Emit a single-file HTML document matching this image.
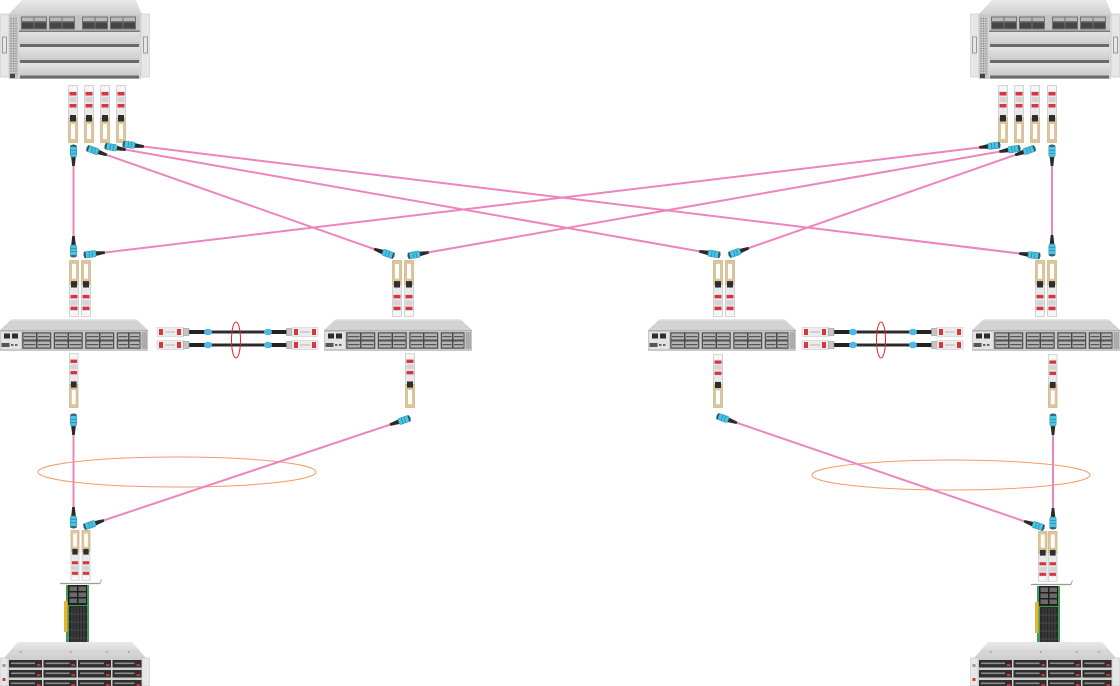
<!DOCTYPE html>
<html><head><meta charset="utf-8"><style>
html,body{margin:0;padding:0;background:#fff;}
svg{display:block;}
</style></head><body>
<svg width="1120" height="686" viewBox="0 0 1120 686" xmlns="http://www.w3.org/2000/svg">
<defs>
  <pattern id="dots" width="2.5" height="2.5" patternUnits="userSpaceOnUse">
    <rect width="2.5" height="2.5" fill="#c8c8c8"/><rect x="0.5" y="0.5" width="1.2" height="1.2" fill="#7d7d7d"/>
  </pattern>
  <pattern id="vent" width="2" height="2" patternUnits="userSpaceOnUse">
    <rect width="2" height="2" fill="#bdbdbd"/><rect x="0.4" y="0.4" width="1" height="1" fill="#777"/>
  </pattern>
  <linearGradient id="gPanel" x1="0" y1="0" x2="0" y2="1">
    <stop offset="0" stop-color="#e4e4e4"/><stop offset="1" stop-color="#cbcbcb"/>
  </linearGradient>
  <linearGradient id="gTop" x1="0" y1="0" x2="0" y2="1">
    <stop offset="0" stop-color="#e8e8e8"/><stop offset="1" stop-color="#cfcfcf"/>
  </linearGradient>

  <!-- transceiver: beige end at bottom -->
  <symbol id="trA" viewBox="0 0 10 58" preserveAspectRatio="none">
    <rect x="0.5" y="0.5" width="9" height="33" fill="#e9e9e9" stroke="#bdbdbd" stroke-width="0.6"/>
    <rect x="1" y="1" width="8" height="5" fill="#f6f6f6"/>
    <rect x="1.5" y="7" width="7" height="3.5" fill="#d6363f"/>
    <rect x="1.5" y="12" width="7" height="5" fill="#d4d4d4"/>
    <rect x="1.5" y="19" width="7" height="3.5" fill="#d6363f"/>
    <rect x="0.5" y="33" width="9" height="24.5" fill="#dcc59c" stroke="#c6a877" stroke-width="0.6"/>
    <rect x="3" y="39" width="4" height="15" fill="#ffffff"/>
    <rect x="2" y="30" width="6" height="6.5" fill="#2e2e2e"/>
  </symbol>
  <!-- transceiver: beige end at top -->
  <symbol id="trB" viewBox="0 0 10 58" preserveAspectRatio="none">
    <g transform="translate(0,58) scale(1,-1)">
      <rect x="0.5" y="0.5" width="9" height="33" fill="#e9e9e9" stroke="#bdbdbd" stroke-width="0.6"/>
      <rect x="1" y="1" width="8" height="5" fill="#f6f6f6"/>
      <rect x="1.5" y="7" width="7" height="3.5" fill="#d6363f"/>
      <rect x="1.5" y="12" width="7" height="5" fill="#d4d4d4"/>
      <rect x="1.5" y="19" width="7" height="3.5" fill="#d6363f"/>
      <rect x="0.5" y="33" width="9" height="24.5" fill="#dcc59c" stroke="#c6a877" stroke-width="0.6"/>
      <rect x="3" y="39" width="4" height="15" fill="#ffffff"/>
      <rect x="2" y="30" width="6" height="6.5" fill="#2e2e2e"/>
    </g>
  </symbol>

  <!-- MPO connector along +x, head at origin -->
  <g id="mpo">
    <polygon points="11,-2.4 21,-1.3 21,1.3 11,2.4" fill="#2a2a2a"/>
    <rect x="0" y="-3.2" width="12" height="6.4" rx="1.6" fill="#4ac4e3" stroke="#2a8fb0" stroke-width="0.5"/>
    <rect x="0.3" y="-2.8" width="1.4" height="5.6" fill="#2d4650"/>
    <rect x="5" y="-3.2" width="0.8" height="6.4" fill="#2a8fb0"/>
    <rect x="8" y="-3.2" width="0.8" height="6.4" fill="#2a8fb0"/>
  </g>

  <!-- core chassis -->
  <symbol id="chassis" viewBox="0 0 150 80" preserveAspectRatio="none">
    <polygon points="22,0 136,0 142,15 8,15" fill="url(#gTop)"/>
    <rect x="0" y="14" width="9" height="63" fill="#e6e6e6" stroke="#c2c2c2" stroke-width="0.6"/>
    <rect x="141" y="14" width="9" height="63" fill="#e6e6e6" stroke="#c2c2c2" stroke-width="0.6"/>
    <rect x="2.5" y="37" width="4" height="16" fill="none" stroke="#9a9a9a" stroke-width="1"/>
    <rect x="143.5" y="37" width="4" height="16" fill="none" stroke="#9a9a9a" stroke-width="1"/>
    <rect x="9" y="15" width="132" height="64" fill="#d4d4d4"/>
    <rect x="9" y="15" width="9" height="64" fill="#c6c6c6"/>
    <rect x="10.5" y="17" width="6" height="58" fill="url(#dots)"/>
    <rect x="19" y="15" width="121" height="16" fill="#c4c4c4"/>
    <g fill="#707070">
      <rect x="21" y="16.5" width="26" height="13"/><rect x="49" y="16.5" width="26" height="13"/>
      <rect x="82" y="16.5" width="26" height="13"/><rect x="110" y="16.5" width="26" height="13"/>
    </g>
    <g fill="#b9b9b9">
      <rect x="22" y="17.5" width="11.5" height="3.5"/><rect x="34.5" y="17.5" width="11.5" height="3.5"/>
      <rect x="50" y="17.5" width="11.5" height="3.5"/><rect x="62.5" y="17.5" width="11.5" height="3.5"/>
      <rect x="83" y="17.5" width="11.5" height="3.5"/><rect x="95.5" y="17.5" width="11.5" height="3.5"/>
      <rect x="111" y="17.5" width="11.5" height="3.5"/><rect x="123.5" y="17.5" width="11.5" height="3.5"/>
    </g>
    <g fill="#454545">
      <rect x="22" y="22.5" width="11.5" height="6"/><rect x="34.5" y="22.5" width="11.5" height="6"/>
      <rect x="50" y="22.5" width="11.5" height="6"/><rect x="62.5" y="22.5" width="11.5" height="6"/>
      <rect x="83" y="22.5" width="11.5" height="6"/><rect x="95.5" y="22.5" width="11.5" height="6"/>
      <rect x="111" y="22.5" width="11.5" height="6"/><rect x="123.5" y="22.5" width="11.5" height="6"/>
    </g>
    <rect x="19" y="31" width="121" height="13" fill="url(#gPanel)"/>
    <rect x="19" y="47" width="121" height="13" fill="url(#gPanel)"/>
    <rect x="19" y="63" width="121" height="12" fill="url(#gPanel)"/>
    <rect x="19" y="30.5" width="121" height="1.5" fill="#7a7a7a"/>
    <rect x="20" y="44" width="119" height="3" fill="#6a6a6a"/>
    <rect x="20" y="60" width="119" height="3" fill="#6a6a6a"/>
    <rect x="20" y="75.5" width="119" height="3" fill="#6a6a6a"/>
    <rect x="10" y="74" width="5" height="4" fill="#444"/>
  </symbol>

  <!-- 1U switch -->
  <symbol id="sw" viewBox="0 0 148 32" preserveAspectRatio="none">
    <polygon points="12,0 136,0 148,11 0,11" fill="#d3d3d3"/>
    <polygon points="12,0 136,0 137.5,1.5 10.5,1.5" fill="#e6e6e6"/>
    <rect x="0" y="11" width="148" height="21" fill="#c9c9c9"/>
    <rect x="0" y="11" width="148" height="1" fill="#b0b0b0"/>
    <rect x="1" y="13" width="20" height="17" fill="#e3e3e3"/>
    <rect x="4" y="14.5" width="6" height="5" fill="#2d2d2d"/>
    <rect x="12" y="14.5" width="6" height="5" fill="#2d2d2d"/>
    <rect x="1.5" y="24" width="8" height="4" fill="#555"/>
    <rect x="11" y="25" width="2.5" height="2" fill="#666"/>
    <rect x="15" y="25" width="2.5" height="2" fill="#666"/>
    <g>
      <rect x="22" y="13" width="29.5" height="17" fill="#8f8f8f"/>
      <rect x="53.5" y="13" width="29.5" height="17" fill="#8f8f8f"/>
      <rect x="85" y="13" width="29.5" height="17" fill="#8f8f8f"/>
      <rect x="116.5" y="13" width="24" height="17" fill="#8f8f8f"/>
    </g>
    <g fill="#b4b4b4" stroke="#3d3d3d" stroke-width="0.8">
      <rect x="23" y="14" width="13.5" height="7"/><rect x="37" y="14" width="13.5" height="7"/>
      <rect x="23" y="22" width="13.5" height="7"/><rect x="37" y="22" width="13.5" height="7"/>
      <rect x="54.5" y="14" width="13.5" height="7"/><rect x="68.5" y="14" width="13.5" height="7"/>
      <rect x="54.5" y="22" width="13.5" height="7"/><rect x="68.5" y="22" width="13.5" height="7"/>
      <rect x="86" y="14" width="13.5" height="7"/><rect x="100" y="14" width="13.5" height="7"/>
      <rect x="86" y="22" width="13.5" height="7"/><rect x="100" y="22" width="13.5" height="7"/>
      <rect x="117.5" y="14" width="11" height="7"/><rect x="129" y="14" width="11" height="7"/>
      <rect x="117.5" y="22" width="11" height="7"/><rect x="129" y="22" width="11" height="7"/>
    </g>
    <g fill="#555">
      <rect x="24" y="17" width="11.5" height="1.2"/><rect x="38" y="17" width="11.5" height="1.2"/>
      <rect x="24" y="25" width="11.5" height="1.2"/><rect x="38" y="25" width="11.5" height="1.2"/>
      <rect x="55.5" y="17" width="11.5" height="1.2"/><rect x="69.5" y="17" width="11.5" height="1.2"/>
      <rect x="55.5" y="25" width="11.5" height="1.2"/><rect x="69.5" y="25" width="11.5" height="1.2"/>
      <rect x="87" y="17" width="11.5" height="1.2"/><rect x="101" y="17" width="11.5" height="1.2"/>
      <rect x="87" y="25" width="11.5" height="1.2"/><rect x="101" y="25" width="11.5" height="1.2"/>
      <rect x="118.5" y="17" width="9" height="1.2"/><rect x="130" y="17" width="9" height="1.2"/>
      <rect x="118.5" y="25" width="9" height="1.2"/><rect x="130" y="25" width="9" height="1.2"/>
    </g>
    <rect x="141.5" y="13" width="5.5" height="17" fill="url(#vent)"/>
  </symbol>

  <!-- storage server -->
  <symbol id="srv" viewBox="0 0 150 44" preserveAspectRatio="none">
    <polygon points="18,0 132,0 146,16 4,16" fill="url(#gTop)"/>
    <line x1="10" y1="9" x2="140" y2="9" stroke="#c2c2c2" stroke-width="0.6"/>
    <g fill="#9a9a9a"><rect x="20" y="9.5" width="1.5" height="1.5"/><rect x="70" y="9.5" width="1.5" height="1.5"/><rect x="106" y="9.5" width="1.5" height="1.5"/><rect x="128" y="9.5" width="1.5" height="1.5"/></g>
    <rect x="0" y="16" width="150" height="28" fill="#cfcfcf"/>
    <rect x="0" y="16" width="8" height="28" fill="#e6e6e6" stroke="#bbbbbb" stroke-width="0.5"/>
    <rect x="142" y="16" width="8" height="28" fill="#e6e6e6" stroke="#bbbbbb" stroke-width="0.5"/>
    <rect x="2.5" y="36" width="3" height="3" fill="#d33"/>
    <rect x="2.5" y="22" width="3" height="3" fill="#999"/>
    <g fill="#2f2f2f">
      <rect x="9" y="18" width="33" height="7.5"/><rect x="43.5" y="18" width="33" height="7.5"/><rect x="78" y="18" width="33" height="7.5"/><rect x="112.5" y="18" width="29" height="7.5"/>
      <rect x="9" y="28" width="33" height="7.5"/><rect x="43.5" y="28" width="33" height="7.5"/><rect x="78" y="28" width="33" height="7.5"/><rect x="112.5" y="28" width="29" height="7.5"/>
      <rect x="9" y="38" width="33" height="6"/><rect x="43.5" y="38" width="33" height="6"/><rect x="78" y="38" width="33" height="6"/><rect x="112.5" y="38" width="29" height="6"/>
    </g>
    <g fill="#8d8d8d">
      <rect x="11" y="20.5" width="24" height="1.6"/><rect x="45.5" y="20.5" width="24" height="1.6"/><rect x="80" y="20.5" width="24" height="1.6"/><rect x="114.5" y="20.5" width="20" height="1.6"/>
      <rect x="11" y="30.5" width="24" height="1.6"/><rect x="45.5" y="30.5" width="24" height="1.6"/><rect x="80" y="30.5" width="24" height="1.6"/><rect x="114.5" y="30.5" width="20" height="1.6"/>
      <rect x="11" y="40.5" width="24" height="1.6"/><rect x="45.5" y="40.5" width="24" height="1.6"/><rect x="80" y="40.5" width="24" height="1.6"/><rect x="114.5" y="40.5" width="20" height="1.6"/>
    </g>
    <g fill="#c8353c">
      <rect x="37" y="22" width="3.5" height="2.2"/><rect x="71.5" y="22" width="3.5" height="2.2"/><rect x="106" y="22" width="3.5" height="2.2"/><rect x="136.5" y="22" width="3.5" height="2.2"/>
      <rect x="37" y="32" width="3.5" height="2.2"/><rect x="71.5" y="32" width="3.5" height="2.2"/><rect x="106" y="32" width="3.5" height="2.2"/><rect x="136.5" y="32" width="3.5" height="2.2"/>
      <rect x="37" y="42" width="3.5" height="2"/><rect x="71.5" y="42" width="3.5" height="2"/><rect x="106" y="42" width="3.5" height="2"/><rect x="136.5" y="42" width="3.5" height="2"/>
    </g>
  </symbol>

  <!-- NIC card (absolute coords, left instance) -->
  <g id="nic">
    <line x1="60" y1="583.5" x2="100" y2="583.5" stroke="#9a9a9a" stroke-width="1.3"/>
    <line x1="100" y1="583.5" x2="101.5" y2="579.5" stroke="#9a9a9a" stroke-width="1"/>
    <rect x="66" y="585" width="23" height="57" fill="#3e9c55"/>
    <rect x="64" y="601" width="3.5" height="31" fill="#e9b22f"/>
    <rect x="68" y="585" width="19" height="20" fill="#1f1f1f"/>
    <g fill="#6a6a6a">
      <rect x="69.5" y="586.5" width="7.5" height="4.5"/><rect x="78.5" y="586.5" width="7.5" height="4.5"/>
      <rect x="69.5" y="592.5" width="7.5" height="4.5"/><rect x="78.5" y="592.5" width="7.5" height="4.5"/>
      <rect x="69.5" y="598.5" width="7.5" height="4.5"/><rect x="78.5" y="598.5" width="7.5" height="4.5"/>
    </g>
    <rect x="69" y="606" width="18" height="36" fill="#2a2a2a"/>
    <g stroke="#5c5c5c" stroke-width="0.6">
      <line x1="72" y1="607" x2="72" y2="642"/><line x1="75" y1="607" x2="75" y2="642"/>
      <line x1="78" y1="607" x2="78" y2="642"/><line x1="81" y1="607" x2="81" y2="642"/>
      <line x1="84" y1="607" x2="84" y2="642"/>
      <line x1="69" y1="614" x2="87" y2="614"/><line x1="69" y1="622" x2="87" y2="622"/>
      <line x1="69" y1="630" x2="87" y2="630"/><line x1="69" y1="638" x2="87" y2="638"/>
    </g>
  </g>

  <!-- DAC pair (left instance) -->
  <g id="dacrow">
    <line x1="188" y1="0" x2="288" y2="0" stroke="#2b2b2b" stroke-width="3"/>
    <line x1="186" y1="0" x2="207" y2="0" stroke="#222" stroke-width="4"/>
    <line x1="268" y1="0" x2="290" y2="0" stroke="#222" stroke-width="4"/>
    <ellipse cx="208" cy="0" rx="4" ry="3.3" fill="#4db7ea"/>
    <ellipse cx="268" cy="0" rx="4" ry="3.3" fill="#4db7ea"/>
    <rect x="157" y="-4.5" width="27" height="9" fill="#ececec" stroke="#c4c4c4" stroke-width="0.5"/>
    <rect x="159" y="-3" width="4" height="6" fill="#d8363f"/>
    <rect x="177" y="-3" width="4" height="6" fill="#d8363f"/>
    <rect x="165" y="-1" width="10" height="2" fill="#d0d0d0"/>
    <rect x="183.5" y="-3.5" width="5.5" height="7" fill="#c4c4c4" stroke="#8a8a8a" stroke-width="0.5"/>
    <rect x="286.5" y="-3.5" width="5.5" height="7" fill="#c4c4c4" stroke="#8a8a8a" stroke-width="0.5"/>
    <rect x="292" y="-4.5" width="26" height="9" fill="#ececec" stroke="#c4c4c4" stroke-width="0.5"/>
    <rect x="294" y="-3" width="4" height="6" fill="#d8363f"/>
    <rect x="312" y="-3" width="4" height="6" fill="#d8363f"/>
    <rect x="300" y="-1" width="10" height="2" fill="#d0d0d0"/>
  </g>
  <g id="dac">
    <use href="#dacrow" transform="translate(0,332)"/>
    <use href="#dacrow" transform="translate(0,345)"/>
    <ellipse cx="236" cy="340" rx="4.5" ry="18" fill="none" stroke="#e5212b" stroke-width="1"/>
  </g>
</defs>

<rect width="1120" height="686" fill="#ffffff"/>

<!-- chassis -->
<use href="#chassis" x="0" y="0" width="150" height="80"/>
<use href="#chassis" x="970" y="0" width="150" height="80"/>

<!-- orange ellipses -->
<ellipse cx="177" cy="472" rx="139" ry="15" fill="none" stroke="#f59a66" stroke-width="1"/>
<ellipse cx="951" cy="475" rx="139" ry="15" fill="none" stroke="#f59a66" stroke-width="1"/>

<!-- pink fiber cables -->
<g stroke="#ee84bd" stroke-width="2" fill="none" stroke-linecap="round">
  <line x1="73.5" y1="145" x2="73.5" y2="257"/>
  <line x1="87" y1="148" x2="394" y2="256"/>
  <line x1="105" y1="146" x2="720" y2="255"/>
  <line x1="123" y1="144" x2="1040" y2="256"/>
  <line x1="1052" y1="145" x2="1052" y2="256"/>
  <line x1="1035" y1="148" x2="729" y2="255"/>
  <line x1="1020" y1="148" x2="408" y2="256"/>
  <line x1="1000" y1="145" x2="84" y2="255"/>
  <line x1="73.5" y1="414" x2="73.5" y2="528"/>
  <line x1="410" y1="418" x2="84" y2="527"/>
  <line x1="717" y1="416" x2="1044" y2="528"/>
  <line x1="1053" y1="414" x2="1053" y2="529"/>
</g>

<!-- transceivers top -->
<use href="#trA" x="68" y="85" width="10" height="58"/>
<use href="#trA" x="84" y="85" width="10" height="58"/>
<use href="#trA" x="100" y="85" width="10" height="58"/>
<use href="#trA" x="116" y="85" width="10" height="58"/>
<use href="#trA" x="998" y="85" width="10" height="58"/>
<use href="#trA" x="1014" y="85" width="10" height="58"/>
<use href="#trA" x="1030" y="85" width="10" height="58"/>
<use href="#trA" x="1047" y="85" width="10" height="58"/>

<!-- transceivers above switches -->
<use href="#trB" x="69" y="260" width="10" height="57"/>
<use href="#trB" x="81" y="260" width="10" height="57"/>
<use href="#trB" x="392" y="260" width="10" height="57"/>
<use href="#trB" x="404" y="260" width="10" height="57"/>
<use href="#trB" x="713" y="260" width="10" height="57"/>
<use href="#trB" x="725" y="260" width="10" height="57"/>
<use href="#trB" x="1035" y="260" width="10" height="57"/>
<use href="#trB" x="1047" y="260" width="10" height="57"/>

<!-- switches -->
<use href="#sw" x="0" y="319" width="148" height="32"/>
<use href="#sw" x="324" y="319" width="148" height="32"/>
<use href="#sw" x="648" y="319" width="148" height="32"/>
<use href="#sw" x="972" y="319" width="148" height="32"/>

<!-- DAC cables -->
<use href="#dac"/>
<use href="#dac" transform="translate(645,0)"/>

<!-- transceivers below switches -->
<use href="#trA" x="69" y="353" width="9.5" height="55"/>
<use href="#trA" x="405" y="353" width="10" height="55"/>
<use href="#trA" x="713" y="354" width="10" height="54"/>
<use href="#trA" x="1048" y="354" width="9.5" height="54"/>

<!-- transceivers above NICs -->
<use href="#trB" x="70.5" y="530" width="9" height="51"/>
<use href="#trB" x="81.5" y="530" width="9" height="51"/>
<use href="#trB" x="1038" y="531" width="9.5" height="51"/>
<use href="#trB" x="1048" y="531" width="9.5" height="51"/>

<!-- MPO connectors -->
<use href="#mpo" transform="translate(73.5,145) rotate(90)"/>
<use href="#mpo" transform="translate(73.5,257) rotate(-90)"/>
<use href="#mpo" transform="translate(87,148) rotate(19.38)"/>
<use href="#mpo" transform="translate(394,256) rotate(199.38)"/>
<use href="#mpo" transform="translate(105,146) rotate(10.05)"/>
<use href="#mpo" transform="translate(720,255) rotate(190.05)"/>
<use href="#mpo" transform="translate(123,144) rotate(6.96)"/>
<use href="#mpo" transform="translate(1040,256) rotate(186.96)"/>
<use href="#mpo" transform="translate(1052,145) rotate(90)"/>
<use href="#mpo" transform="translate(1052,256) rotate(-90)"/>
<use href="#mpo" transform="translate(1035,148) rotate(160.73)"/>
<use href="#mpo" transform="translate(729,255) rotate(-19.27)"/>
<use href="#mpo" transform="translate(1020,148) rotate(169.99)"/>
<use href="#mpo" transform="translate(408,256) rotate(-10.01)"/>
<use href="#mpo" transform="translate(1000,145) rotate(173.15)"/>
<use href="#mpo" transform="translate(84,255) rotate(-6.85)"/>
<use href="#mpo" transform="translate(73.5,414) rotate(90)"/>
<use href="#mpo" transform="translate(73.5,528) rotate(-90)"/>
<use href="#mpo" transform="translate(410,418) rotate(161.51)"/>
<use href="#mpo" transform="translate(84,527) rotate(-18.49)"/>
<use href="#mpo" transform="translate(717,416) rotate(18.90)"/>
<use href="#mpo" transform="translate(1044,528) rotate(198.90)"/>
<use href="#mpo" transform="translate(1053,414) rotate(90)"/>
<use href="#mpo" transform="translate(1053,529) rotate(-90)"/>

<!-- NICs -->
<use href="#nic"/>
<use href="#nic" transform="translate(971,1)"/>

<!-- servers -->
<use href="#srv" x="0" y="642" width="150" height="44"/>
<use href="#srv" x="970" y="642" width="150" height="44"/>
</svg>
</body></html>
